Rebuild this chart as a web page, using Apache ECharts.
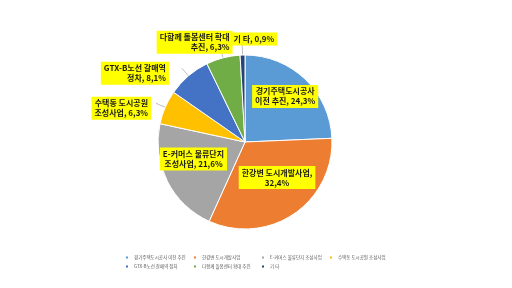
<!DOCTYPE html>
<html>
<head>
<meta charset="utf-8">
<script src="https://cdn.jsdelivr.net/npm/echarts@6/dist/echarts.min.js"></script>
<style>
html, body { margin: 0; padding: 0; background: #fff; }
#chart { width: 512px; height: 288px; }
</style>
</head>
<body>
<div id="chart"></div>
<script>
var names = ['경기주택도시공사 이전 추진', '한강변 도시개발사업', 'E-커머스 물류단지 조성사업', '수택동 도시공원 조성사업', 'GTX-B노선 갈매역 정차', '다함께 돌봄센터 확대 추진', '기 타'];
var labelText = ['경기주택도시공사\n이전 추진, 24,3%', '한강변 도시개발사업,\n32,4%', 'E-커머스 물류단지\n조성사업, 21,6%', '수택동 도시공원\n조성사업, 6,3%', 'GTX-B노선 갈매역\n정차, 8,1%', '다함께 돌봄센터 확대\n추진, 6,3%', '기 타, 0,9%'];
var values = [24.3, 32.4, 21.6, 6.3, 8.1, 6.3, 0.9];
var colors = ['#5b9bd5', '#ed7d31', '#a5a5a5', '#ffc000', '#4472c4', '#70ad47', '#264478'];

// 안쪽 라벨 여부
var inside = [true, true, true, false, false, false, false];
// 라벨 미세 이동
var shift = [[8, -12], [6, -3], [-10, -4], [0, 5], [-8, 5], [17, -6], [40, -6]];

var font = '"Noto Sans CJK KR", sans-serif';

var data = [];
for (var i = 0; i < values.length; i++) {
    data.push({
        name: names[i],
        value: values[i],
        itemStyle: { color: colors[i] },
        label: {
            position: inside[i] ? 'inside' : 'outside',
            formatter: labelText[i]
        }
    });
}

var myChart = echarts.init(document.getElementById('chart'));

var option = {
    backgroundColor: '#fff',
    animation: false,
    legend: {
        left: 119,
        top: 249,
        width: 278,
        itemWidth: 4,
        itemHeight: 4,
        itemGap: 2,
        icon: 'rect',
        textStyle: {
            fontFamily: font,
            fontSize: 4.5,
            color: '#595959',
            width: 56,
            lineHeight: 7,
            overflow: 'truncate'
        },
        data: names
    },
    series: [{
        type: 'pie',
        center: [245, 142],
        radius: 87,
        startAngle: 90,
        clockwise: true,
        avoidLabelOverlap: false,
        data: data,
        itemStyle: { borderColor: '#fff', borderWidth: 1 },
        label: {
            fontFamily: font,
            fontSize: 8,
            fontWeight: 'bold',
            color: '#1a1a1a',
            backgroundColor: '#ffff00',
            padding: [2, 3, 1, 3],
            lineHeight: 10,
            align: 'center'
        },
        labelLine: {
            show: true,
            length: 10,
            length2: 0,
            lineStyle: { color: '#bfbfbf', width: 1 }
        },
        labelLayout: function (p) {
            return { dx: shift[p.dataIndex][0], dy: shift[p.dataIndex][1] };
        },
        emphasis: { disabled: true }
    }]
};

myChart.setOption(option);
</script>
</body>
</html>
